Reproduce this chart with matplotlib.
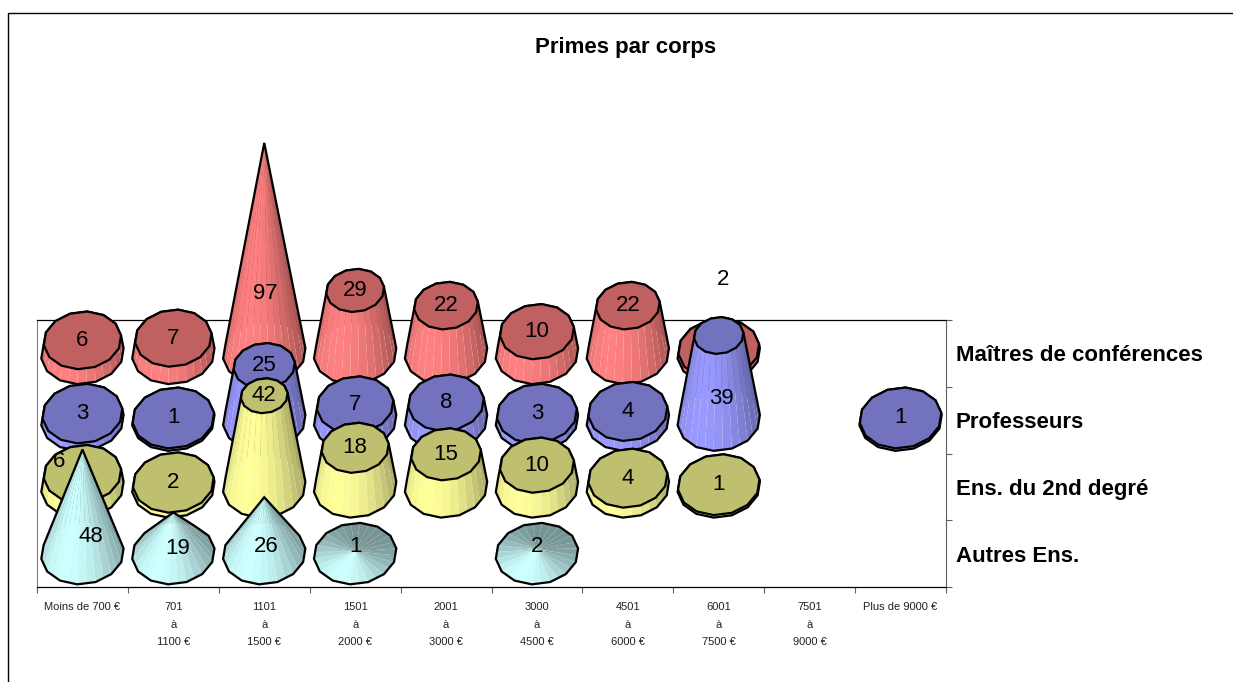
#!/usr/bin/env python3
"""Primes par corps: Excel style 3D cone chart drawn with matplotlib polygons."""

import numpy as np
import matplotlib
matplotlib.use("Agg")
import matplotlib.pyplot as plt
from matplotlib.patches import Polygon, Rectangle

plt.rcParams['font.family'] = ['Liberation Sans', 'DejaVu Sans']

# Data
categories = ["Moins de 700 €", "701\nà\n1100 €", "1101\nà\n1500 €", "1501\nà\n2000 €",
              "2001\nà\n3000 €", "3000\nà\n4500 €", "4501\nà\n6000 €", "6001\nà\n7500 €",
              "7501\nà\n9000 €", "Plus de 9000 €"]
series_names = ["Autres Ens.", "Ens. du 2nd degré", "Professeurs", "Maîtres de conférences"]
autres = [48, 19, 26, 1, None, 2, None, None, None, None]
ens_2nd = [6, 2, 42, 18, 15, 10, 4, 1, None, None]
professeurs = [3, 1, 25, 7, 8, 3, 4, 39, None, 1]
maitres = [6, 7, 97, 29, 22, 10, 22, 2, None, None]
series_values = [autres, ens_2nd, professeurs, maitres]

series_colors = ["#CCFFFF", "#FFFF99", "#9999FF", "#FF8080"]
top_colors = [None, "#BFBF70", "#7272BE", "#C06060"]

CONE_MAX = 97          # truncated cones all narrow towards this value
ROWS_PER_UNIT = 0.0325 # value height, in row units
RX, RY = 0.455, 0.46   # base ellipse radii, in category / row units
SHEAR = 0.07
N_SIDES = 14           # corners of the outline
N_SUB = 2              # shaded facets per side
LIGHT_ANGLE = np.deg2rad(-118)
OUTLINE = 1.6

# labels Excel left away from their default place: (series, category) -> dx, dy
label_shift = {
    (3, 2): (0.01, -2.25),
    (3, 7): (0.05, 1.04),
    (2, 7): (0.03, -0.95),
    (1, 0): (-0.26, 0.18),
    (0, 0): (0.09, 0.15),
    (0, 1): (0.05, -0.03),
    (0, 2): (0.02, 0.0),
}


def ring(cx, cy, frac):
    """Polygon corners of an ellipse scaled by frac, each side split in N_SUB"""
    t = np.linspace(0, 2 * np.pi, N_SIDES, endpoint=False) + 0.1
    x = cx + frac * RX * np.cos(t)
    y = cy + frac * RY * (np.sin(t) + SHEAR * np.cos(t))
    corners = np.column_stack([x, y])
    points = []
    angles = []
    for i in range(N_SIDES):
        for k in range(N_SUB):
            f = k / N_SUB
            points.append(corners[i] * (1 - f) + corners[(i + 1) % N_SIDES] * f)
            angles.append(t[i] + f * 2 * np.pi / N_SIDES)
    return np.array(angles), np.array(points)


def hull(points):
    """Convex hull, monotone chain"""
    pts = sorted(map(tuple, points))

    def half(seq):
        out = []
        for p in seq:
            while len(out) > 1:
                a, b = out[-2], out[-1]
                if (b[0] - a[0]) * (p[1] - a[1]) - (b[1] - a[1]) * (p[0] - a[0]) > 0:
                    break
                out.pop()
            out.append(p)
        return out[:-1]

    return half(pts) + half(pts[::-1])


def draw_cone(ax, cx, cy, value, color, top_color, to_apex):
    """Draw one cone, return the centre of its top"""
    height = value * ROWS_PER_UNIT
    top_y = cy + height
    frac = 0.0 if to_apex else 1 - value / CONE_MAX
    t, base = ring(cx, cy, 1.0)
    _, top = ring(cx, top_y, frac)
    rgb = np.array(matplotlib.colors.to_rgb(color))
    n = len(t)
    step = 2 * np.pi / n

    # back facets first
    order = np.argsort(-np.sin(t + step / 2))
    for i in order:
        j = (i + 1) % n
        mid = t[i] + step / 2
        shade = 0.58 + 0.42 * (0.5 + 0.5 * np.cos(mid - LIGHT_ANGLE)) ** 1.5
        ax.add_patch(Polygon([base[i], base[j], top[j], top[i]], closed=True,
                             facecolor=rgb * shade, edgecolor='none', lw=0,
                             clip_on=False, zorder=3))

    ax.add_patch(Polygon(hull(np.vstack([base, top])), closed=True, fill=False,
                         edgecolor='black', lw=OUTLINE, clip_on=False, zorder=3))
    if frac > 0:
        ax.add_patch(Polygon(top, closed=True, facecolor=top_color,
                             edgecolor='black', lw=OUTLINE, clip_on=False, zorder=3))
    return top_y


def main():
    fig = plt.figure(figsize=(12.33, 6.82), dpi=100)
    # chart frame, right and bottom edges run off the picture
    fig.add_artist(Rectangle((8 / 1233, -0.05), 1.05, 1.05 - 13 / 682, fill=False,
                             edgecolor='black', lw=1.0, transform=fig.transFigure))

    ax = fig.add_axes([37 / 1233, 1 - 587 / 682, 909 / 1233, 267 / 682])
    ax.set_xlim(0, len(categories))
    ax.set_ylim(0, len(series_names))
    ax.patch.set_visible(False)

    labels = []
    for s in range(len(series_names) - 1, -1, -1):
        for c, value in enumerate(series_values[s]):
            if value is None:
                continue
            cx, cy = c + 0.5, s + 0.5
            to_apex = s == 0
            top_y = draw_cone(ax, cx, cy, value, series_colors[s], top_colors[s], to_apex)
            lx, ly = cx, cy + 0.1 if to_apex else top_y
            dx, dy = label_shift.get((s, c), (0, 0))
            labels.append((lx + dx, ly + dy, value))

    for lx, ly, value in labels:
        ax.text(lx, ly, str(value), ha='center', va='center', fontsize=16,
                color='black', zorder=6, clip_on=False)

    # axes
    ax.spines['left'].set_color('#808080')
    ax.spines['right'].set_color('#606060')
    ax.spines['top'].set_linewidth(0.9)
    ax.spines['bottom'].set_linewidth(0.9)

    ax.set_xticks(np.arange(len(categories) + 1))
    ax.set_xticklabels([])
    ax.set_xticks(np.arange(len(categories)) + 0.5, minor=True)
    ax.set_xticklabels(categories, minor=True, fontsize=8, linespacing=1.95, color='#222222')
    ax.tick_params(axis='x', which='major', length=4, width=0.8, color='#606060')
    ax.tick_params(axis='x', which='minor', length=0, pad=11)

    ax.yaxis.tick_right()
    ax.set_yticks(np.arange(len(series_names) + 1))
    ax.set_yticklabels([])
    ax.set_yticks(np.arange(len(series_names)) + 0.5, minor=True)
    ax.set_yticklabels(series_names, minor=True, fontsize=16, fontweight='bold')
    ax.tick_params(axis='y', which='major', length=4, width=0.8, color='#606060')
    ax.tick_params(axis='y', which='minor', length=0, pad=7)

    fig.text(626 / 1233, 1 - 48 / 682, "Primes par corps", ha='center', va='center',
             fontsize=16, fontweight='bold')

    fig.savefig("out.png", dpi=100)


if __name__ == "__main__":
    main()
